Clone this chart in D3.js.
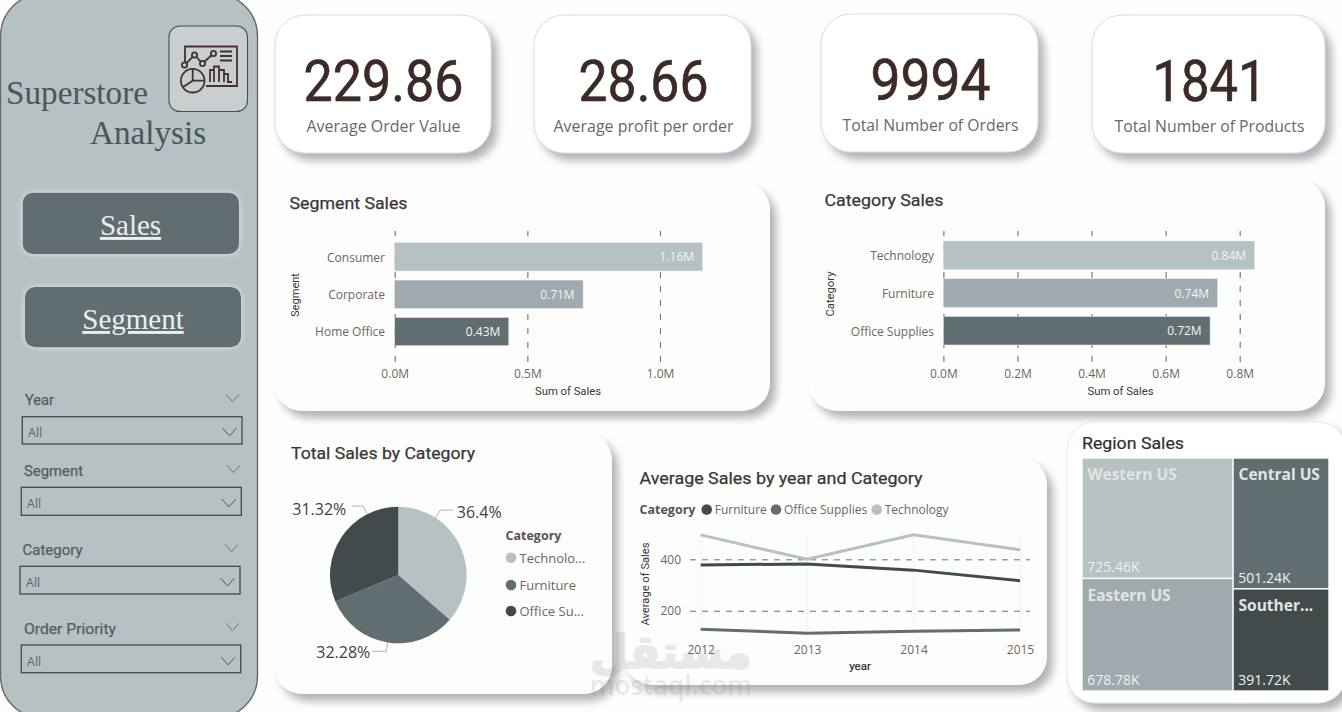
<!DOCTYPE html>
<html>
<head>
<meta charset="utf-8">
<title>Superstore Analysis</title>
<script src="https://cdn.jsdelivr.net/npm/d3@7/dist/d3.min.js"></script>
<style>
  html, body { margin: 0; padding: 0; background: #fefefd; overflow: hidden; }
  svg { display: block; }
  .axis .domain { display: none; }
  .axis text { font-family: "Open Sans", sans-serif; fill: #6e6663; }
</style>
</head>
<body>
<svg id="board" width="1342" height="712"></svg>
<script>
// ---- values ----
const kpiValues = ["229.86", "28.66", "9994", "1841"];
const kpiLabels = ["Average Order Value", "Average profit per order", "Total Number of Orders", "Total Number of Products"];

const segmentNames = ["Consumer", "Corporate", "Home Office"];
const segmentSales = [1.16, 0.71, 0.43];
const segmentTicks = [0, 0.5, 1.0];

const categoryNames = ["Technology", "Furniture", "Office Supplies"];
const categorySales = [0.84, 0.74, 0.72];
const categoryTicks = [0, 0.2, 0.4, 0.6, 0.8];

const pieNames = ["Technology", "Furniture", "Office Supplies"];
const pieLegendLabels = ["Technolo...", "Furniture", "Office Su..."];
const pieShares = [36.4, 32.28, 31.32];

const years = [2012, 2013, 2014, 2015];
const lineSeriesNames = ["Furniture", "Office Supplies", "Technology"];
const avgFurniture = [378, 382, 358, 317];
const avgOffice = [128, 113, 120, 125];
const avgTechnology = [495, 400, 495, 437];
const lineTicks = [200, 400];

const regionNames = ["Western US", "Eastern US", "Central US", "Southern US"];
const regionLabels = ["Western US", "Eastern US", "Central US", "Souther..."];
const regionSales = [725.46, 678.78, 501.24, 391.72];

const slicerNames = ["Year", "Segment", "Category", "Order Priority"];

// ---- palette ----
const pale = "#b5c1c2", mid = "#9eaaad", slate = "#616e71", ink = "#424a4c";
const din = "Roboto, sans-serif", ui = "'Open Sans', sans-serif", serif = "'Liberation Serif', serif";

const svg = d3.select("#board");
const defs = svg.append("defs");

const shadow = defs.append("filter").attr("id", "cardShadow")
  .attr("x", "-10%").attr("y", "-10%").attr("width", "125%").attr("height", "130%");
shadow.append("feDropShadow").attr("dx", 6).attr("dy", 7).attr("stdDeviation", 4)
  .attr("flood-color", "#8a8f94").attr("flood-opacity", 0.68);

const glow = defs.append("filter").attr("id", "buttonGlow")
  .attr("x", "-10%").attr("y", "-25%").attr("width", "120%").attr("height", "150%");
glow.append("feDropShadow").attr("dx", 0).attr("dy", 0).attr("stdDeviation", 3)
  .attr("flood-color", "#e6e9ea").attr("flood-opacity", 1);

// Text helper: optional fit squeezes the run to a given advance width.
function label(g, x, y, str, o = {}) {
  const t = g.append("text").attr("x", x).attr("y", y).text(str)
    .attr("font-family", o.family || ui)
    .attr("font-size", o.size || 12)
    .attr("font-weight", o.weight || 400)
    .attr("fill", o.fill || "#6e6663")
    .attr("text-anchor", o.anchor || "start")
    .attr("dominant-baseline", o.baseline || "central");
  if (o.fit) t.attr("textLength", o.fit).attr("lengthAdjust", "spacingAndGlyphs");
  if (o.rotate) t.attr("transform", `rotate(${o.rotate} ${x} ${y})`);
  if (o.underline) t.attr("text-decoration", "underline");
  if (o.thicken) t.attr("stroke", o.fill).attr("stroke-width", o.thicken);
  return t;
}

function card(x0, y0, x1, y1, r, fill, stroke) {
  svg.append("rect").attr("x", x0).attr("y", y0)
    .attr("width", x1 - x0).attr("height", y1 - y0).attr("rx", r)
    .attr("fill", fill).attr("stroke", stroke || "none")
    .attr("filter", "url(#cardShadow)");
}

// ---- sidebar ----
svg.append("rect").attr("x", 0.5).attr("y", -6).attr("width", 257).attr("height", 724).attr("rx", 42)
  .attr("fill", pale).attr("stroke", "#666b6c").attr("stroke-width", 1.4);

label(svg, 6, 104, "Superstore", { family: serif, size: 33.2, fill: "#4c5557", baseline: "auto" });
label(svg, 90, 144, "Analysis", { family: serif, size: 33.2, fill: "#4c5557", baseline: "auto" });

// Dashboard pictogram
const icon = svg.append("g");
icon.append("rect").attr("x", 169).attr("y", 26).attr("width", 78.5).attr("height", 85.5).attr("rx", 11)
  .attr("fill", "#c9ced1").attr("stroke", "#4d4d4d").attr("stroke-width", 1.1);
const iconStroke = { fill: "none", stroke: "#46322c", "stroke-width": 1.8 };
const applyIcon = s => Object.entries(iconStroke).forEach(([k, v]) => s.attr(k, v));
applyIcon(icon.append("path").attr("d", "M185 62V46.5H237V86H206"));
applyIcon(icon.append("path").attr("d", "M184.5 65L194.5 55L202.5 63.5L213.5 53.5"));
[[184.5, 65], [194.5, 55], [202.5, 63.5], [213.5, 53.5]].forEach(c => {
  const dot = icon.append("circle").attr("cx", c[0]).attr("cy", c[1]).attr("r", 2.6);
  applyIcon(dot);
  dot.attr("fill", "#c9ced1");
});
applyIcon(icon.append("circle").attr("cx", 192.7).attr("cy", 80.7).attr("r", 11.8));
applyIcon(icon.append("path").attr("d", "M192.7 69V80.7H204.5M192.7 80.7L183 87"));
applyIcon(icon.append("path").attr("d", "M220 51.5H232M220 56H232M220 60.5H232"));
applyIcon(icon.append("path").attr("d", "M210 82V70H214V82M214 82V66.5H219V82M219 82V70H224V82M224 82V74H228V82H232"));

// Navigation buttons
[["Sales", 22.7, 192.7, 239, 254, 130.5, 235], ["Segment", 25, 287, 241, 347.3, 133, 329]]
  .forEach(([name, x0, y0, x1, y1, tx, ty]) => {
    svg.append("rect").attr("x", x0).attr("y", y0).attr("width", x1 - x0).attr("height", y1 - y0).attr("rx", 10)
      .attr("fill", slate).attr("filter", "url(#buttonGlow)");
    label(svg, tx, ty, name, { family: serif, size: 29, fill: "#eceeee", anchor: "middle", baseline: "auto", underline: true });
  });

// Slicers
const slicerLayout = [
  { tx: 25, ty: 400, fit: 29, cx0: 226, cy: 398, bx0: 22.3, bx1: 242, by0: 416.7, by1: 444, ax: 28, ay: 432 },
  { tx: 24, ty: 471, fit: 59, cx0: 227, cy: 469, bx0: 21.3, bx1: 241.3, by0: 487.3, by1: 515.3, ax: 27, ay: 503 },
  { tx: 22.5, ty: 550, fit: 60, cx0: 225, cy: 548, bx0: 20, bx1: 240, by0: 566.3, by1: 594, ax: 26, ay: 582 },
  { tx: 24, ty: 629, fit: 92, cx0: 226, cy: 627, bx0: 21.3, bx1: 240.7, by0: 645, by1: 672.7, ax: 27, ay: 661 }
];
function chevron(x0, cy, w, stroke) {
  svg.append("path").attr("d", `M${x0} ${cy - w * 0.28}L${x0 + w / 2} ${cy + w * 0.28}L${x0 + w} ${cy - w * 0.28}`)
    .attr("fill", "none").attr("stroke", stroke).attr("stroke-width", 1);
}
slicerNames.forEach((name, i) => {
  const s = slicerLayout[i];
  label(svg, s.tx, s.ty, name, { family: din, size: 14.5, fill: "#555e60", thicken: 0.25, fit: s.fit });
  chevron(s.cx0, s.cy, 13, "#7b6e69");
  svg.append("rect").attr("x", s.bx0).attr("y", s.by0).attr("width", s.bx1 - s.bx0).attr("height", s.by1 - s.by0)
    .attr("fill", "none").attr("stroke", "#4b4644").attr("stroke-width", 1.3);
  label(svg, s.ax, s.ay, "All", { size: 12.5, fill: "#5d6567" });
  chevron(s.bx1 - 19.5, s.ay, 14, "#555");
});

// ---- KPI cards ----
const kpiCards = [[275, 15, 491, 153, 383.5, 160], [534, 15, 751, 153, 643.5, 130], [821, 14, 1038, 152, 930.5, 120], [1092, 15, 1325, 153, 1209.5, 114]];
const kpiLabelWidths = [154, 180, 176, 190];
kpiValues.forEach((v, i) => {
  const [x0, y0, x1, y1, cx, w] = kpiCards[i];
  card(x0, y0, x1, y1, 30, "#ffffff", "#dcdcdc");
  label(svg, cx, y0 + 86, v, { family: din, size: 57, fill: "#3b2a26", anchor: "middle", baseline: "auto", fit: w, thicken: 0.6 });
  label(svg, cx, y0 + 111, kpiLabels[i], { size: 15.5, fill: "#6e6663", anchor: "middle", fit: kpiLabelWidths[i] });
});

// ---- horizontal bar charts ----
function barChart(o) {
  card(o.x0, o.y0, o.x1, o.y1, 28, "#fdfdfb");
  label(svg, o.titleX, o.titleY, o.title, { family: din, size: 17, fill: "#38373a", fit: o.titleW, thicken: 0.25 });

  const x = d3.scaleLinear().domain([0, o.tickMax]).range([o.zeroX, o.maxX]);
  const y = d3.scaleBand().domain(o.names).range(o.bandRange).paddingInner(0.245).paddingOuter(0.1225);

  const xAxis = d3.axisBottom(x).tickValues(o.ticks)
    .tickFormat(d => d.toFixed(1) + "M")
    .tickSizeInner(-(o.gridBottom - o.gridTop)).tickPadding(7);
  const ax = svg.append("g").attr("class", "axis").attr("transform", `translate(0,${o.gridBottom})`).call(xAxis);
  ax.selectAll("line").attr("stroke", "#6f7172").attr("stroke-width", 1.1).attr("stroke-dasharray", "6 8");
  ax.selectAll("text").attr("font-size", 12);

  const yAxis = d3.axisLeft(y).tickSize(0).tickPadding(o.zeroX - o.catLabelX);
  const ay = svg.append("g").attr("class", "axis").attr("transform", `translate(${o.zeroX},1)`).call(yAxis);
  ay.selectAll("text").attr("font-size", 12);

  svg.append("g").selectAll("rect").data(o.values).join("rect")
    .attr("x", o.zeroX).attr("y", (d, i) => y(o.names[i]))
    .attr("width", d => x(d) - o.zeroX).attr("height", y.bandwidth())
    .attr("fill", (d, i) => o.colors[i]).attr("stroke", "#dde1e1").attr("stroke-width", 0.6);

  svg.append("g").selectAll("text").data(o.values).join("text")
    .attr("x", d => x(d) - 8.4).attr("y", (d, i) => y(o.names[i]) + y.bandwidth() / 2)
    .attr("text-anchor", "end").attr("dominant-baseline", "central")
    .attr("font-family", ui).attr("font-size", 12).attr("font-weight", 500).attr("fill", "#f3f4f4")
    .text(d => d.toFixed(2) + "M");

  label(svg, o.axisTitleX, 391, "Sum of Sales", { family: din, size: 11, fill: "#38373a", anchor: "middle", fit: 66 });
  label(svg, o.catTitleX, o.catTitleY, o.catTitle, { family: din, size: 11, fill: "#38373a", anchor: "middle", rotate: -90, fit: o.catTitleW });
}

barChart({
  x0: 274, y0: 182, x1: 770, y1: 411,
  title: "Segment Sales", titleX: 289.5, titleY: 203, titleW: 118,
  names: segmentNames, values: segmentSales, ticks: segmentTicks,
  tickMax: 1, zeroX: 394.7, maxX: 660, bandRange: [238.1, 350.3],
  gridTop: 231, gridBottom: 362, catLabelX: 385,
  colors: [pale, mid, slate], axisTitleX: 568, catTitle: "Segment", catTitleX: 295, catTitleY: 295, catTitleW: 44
});

barChart({
  x0: 809, y0: 179, x1: 1325, y1: 411,
  title: "Category Sales", titleX: 824.5, titleY: 200, titleW: 119,
  names: categoryNames, values: categorySales, ticks: categoryTicks,
  tickMax: 0.8, zeroX: 943.4, maxX: 1239.7, bandRange: [236.4, 349.6],
  gridTop: 231, gridBottom: 362, catLabelX: 934,
  colors: [pale, mid, slate], axisTitleX: 1120.5, catTitle: "Category", catTitleX: 830, catTitleY: 294, catTitleW: 45
});

// ---- pie ----
card(274, 432, 612, 694, 28, "#fdfdfb");
label(svg, 291, 453, "Total Sales by Category", { family: din, size: 17, fill: "#38373a", fit: 184, thicken: 0.25 });

const pieColors = d3.scaleOrdinal().domain(pieNames).range([pale, slate, ink]);
const pieLayout = d3.pie().sort(null).value(d => d.share);
const pieData = pieLayout(pieNames.map((name, i) => ({ name, share: pieShares[i] })));
const radius = 68.3;
const arc = d3.arc().innerRadius(0).outerRadius(radius);
const pieG = svg.append("g").attr("transform", "translate(398.3,575)");
pieG.selectAll("path").data(pieData).join("path")
  .attr("d", arc).attr("fill", d => pieColors(d.data.name));

// Leader lines leave the rim at a chosen bearing, bend, then run flat to the label.
const leaderBearing = [33, 189, -27];
const leaderRun = [13, -14, -11.5];
const pieLabelOffset = [[58.5, -63], [-82, 77], [-106, -66]];
pieData.forEach((d, i) => {
  const bearing = leaderBearing[i] * Math.PI / 180;
  const a = d3.pointRadial(bearing, radius), b = d3.pointRadial(bearing, radius + 9);
  pieG.append("path")
    .attr("d", d3.line()([a, b, [b[0] + leaderRun[i], b[1]]]))
    .attr("fill", "none").attr("stroke", "#aeb8b9").attr("stroke-width", 1);
  label(pieG, pieLabelOffset[i][0], pieLabelOffset[i][1], d.data.share + "%", { size: 16, fill: "#47403d" });
});

label(svg, 505.5, 535, "Category", { size: 12.5, weight: 700, fill: "#5a5351" });
pieNames.forEach((name, i) => {
  const cy = [557.7, 585, 611][i];
  svg.append("circle").attr("cx", 511).attr("cy", cy).attr("r", 5.3).attr("fill", pieColors(name));
  label(svg, 519.5, cy, pieLegendLabels[i], { size: 13, fill: "#6e6663" });
});

// ---- line chart ----
card(624, 457, 1047, 685, 28, "#fdfdfb");
label(svg, 639.5, 478, "Average Sales by year and Category", { family: din, size: 17, fill: "#38373a", fit: 283, thicken: 0.25 });

const xYear = d3.scalePoint().domain(years).range([700.7, 1020]);
const yAvg = d3.scaleLinear().domain([100, 500]).range([636.5, 533.6]);
const lineColors = d3.scaleOrdinal().domain(lineSeriesNames).range([ink, slate, pale]);

label(svg, 639.5, 509.5, "Category", { size: 12.5, weight: 700, fill: "#5a5351" });
lineSeriesNames.forEach((name, i) => {
  const cx = [706.7, 776, 876.7][i];
  svg.append("circle").attr("cx", cx).attr("cy", 509.5).attr("r", 5.3).attr("fill", lineColors(name));
  label(svg, cx + 8, 509.5, name, { size: 12, fill: "#6e6663" });
});

const yAxisG = svg.append("g").attr("class", "axis").attr("transform", "translate(690,0)")
  .call(d3.axisLeft(yAvg).tickValues(lineTicks).tickSizeInner(-340).tickPadding(9));
yAxisG.selectAll("line").attr("stroke", "#6f7172").attr("stroke-width", 1).attr("stroke-dasharray", "6 6");
yAxisG.selectAll("text").attr("font-size", 12);

const xAxisG = svg.append("g").attr("class", "axis").attr("transform", "translate(0,634)")
  .call(d3.axisBottom(xYear).tickFormat(d3.format("d")).tickSizeInner(-100).tickPadding(11));
xAxisG.selectAll("line").attr("stroke", "#d4d6d6").attr("stroke-width", 1).attr("stroke-dasharray", "1 3");
xAxisG.selectAll("text").attr("font-size", 12);

const lineGen = d3.line().x((d, i) => xYear(years[i])).y(d => yAvg(d));
svg.append("g").selectAll("path").data([avgFurniture, avgOffice, avgTechnology]).join("path")
  .attr("d", lineGen).attr("fill", "none")
  .attr("stroke", (d, i) => lineColors(lineSeriesNames[i])).attr("stroke-width", 3);

label(svg, 860, 666, "year", { family: din, size: 11.5, fill: "#38373a", anchor: "middle", thicken: 0.25 });
label(svg, 645, 584, "Average of Sales", { family: din, size: 11, fill: "#38373a", anchor: "middle", rotate: -90, fit: 83 });

// ---- treemap ----
card(1067, 422, 1346, 703, 28, "#ffffff", "#e6e6e6");
label(svg, 1082, 443, "Region Sales", { family: din, size: 17, fill: "#2f2f31", fit: 102, thicken: 0.2 });

const regionRoot = d3.hierarchy({ children: regionNames.map((name, i) => ({ name, value: regionSales[i], text: regionLabels[i] })) })
  .sum(d => d.value || 0);
d3.treemap().tile(d3.treemapSquarify).size([245.6, 231.6]).paddingInner(1.5)(regionRoot);
const regionColors = d3.scaleOrdinal().domain(regionNames).range([pale, mid, slate, ink]);
const cells = svg.append("g").attr("transform", "translate(1082.7,458.7)")
  .selectAll("g").data(regionRoot.leaves()).join("g")
  .attr("transform", d => `translate(${d.x0},${d.y0})`);
cells.append("rect").attr("width", d => d.x1 - d.x0).attr("height", d => d.y1 - d.y0)
  .attr("fill", d => regionColors(d.data.name));
cells.each(function (d) {
  const g = d3.select(this);
  label(g, 4.8, 15.5, d.data.text, { size: 15.5, weight: 700, fill: "#e2e4e4" });
  label(g, 4.5, d.y1 - d.y0 - 11, d.data.value.toFixed(2) + "K", { size: 14, fill: "#eef0f0" });
});

// ---- site mark across the lower middle ----
const mark = svg.append("g").attr("opacity", 0.15).attr("pointer-events", "none");
label(mark, 671, 652, "مستقل", { family: "'DejaVu Sans', sans-serif", size: 46, weight: 700, fill: "#777", anchor: "middle", fit: 162, thicken: 2 });
label(mark, 671, 684, "mostaql.com", { family: "'Open Sans', sans-serif", size: 27, weight: 600, fill: "#777", anchor: "middle", fit: 162 });
</script>
</body>
</html>
